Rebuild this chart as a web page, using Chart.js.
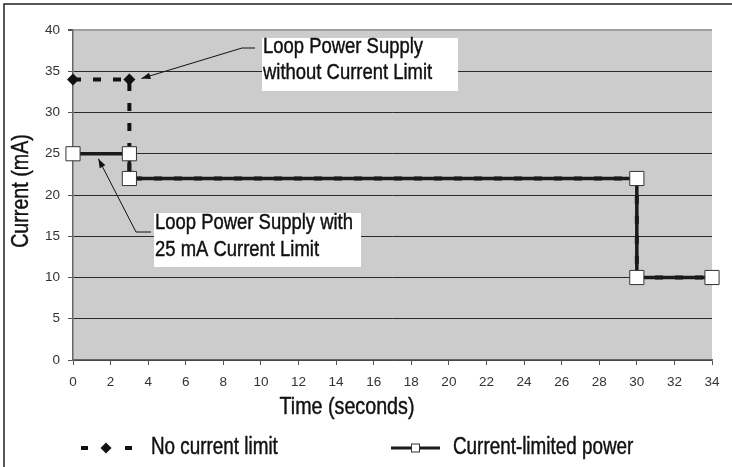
<!DOCTYPE html>
<html>
<head>
<meta charset="utf-8">
<script src="https://cdn.jsdelivr.net/npm/chart.js@4/dist/chart.umd.min.js"></script>
<style>
  html, body { margin: 0; padding: 0; background: #ffffff; }
  #wrap { width: 732px; height: 467px; position: relative; }
</style>
</head>
<body>
<div id="wrap"><canvas id="c" width="732" height="467"></canvas></div>
<script>
// Time axis (seconds) and the two current traces (mA)
const timeNoLimit = [0, 3, 3, 30, 30, 34];
const currentNoLimit = [34, 34, 22, 22, 10, 10];
const timeLimited = [0, 3, 3, 30, 30, 34];
const currentLimited = [25, 25, 22, 22, 10, 10];

const seriesNames = ['No current limit', 'Current-limited power'];
const xTitle = 'Time (seconds)';
const yTitle = 'Current (mA)';
const xTicks = { min: 0, max: 34, step: 2 };
const yTicks = { min: 0, max: 40, step: 5 };

const calloutUpper = ['Loop Power Supply', 'without Current Limit'];
const calloutLower = ['Loop Power Supply with', '25 mA Current Limit'];

const SANS = '"Liberation Sans", Arial, sans-serif';
const NARROW_X = 0.82;   // horizontal squeeze for the condensed label face

const toXY = (xs, ys) => xs.map((x, i) => ({ x, y: ys[i] }));

// condensed text: regular sans squeezed horizontally, lightly emboldened
function narrowText(ctx, text, x, y, size, align, baseline, rot) {
  ctx.save();
  ctx.translate(x, y);
  if (rot) ctx.rotate(rot);
  ctx.scale(NARROW_X, 1);
  ctx.font = size + 'px ' + SANS;
  ctx.textAlign = align || 'left';
  ctx.textBaseline = baseline || 'alphabetic';
  ctx.fillStyle = '#111';
  ctx.strokeStyle = '#111';
  ctx.lineWidth = 0.45;
  ctx.fillText(text, 0, 0);
  ctx.strokeText(text, 0, 0);
  ctx.restore();
}

function drawDiamond(ctx, x, y, r) {
  ctx.beginPath();
  ctx.moveTo(x, y - r); ctx.lineTo(x + r, y); ctx.lineTo(x, y + r); ctx.lineTo(x - r, y);
  ctx.closePath(); ctx.fill();
}

function arrow(ctx, pts) {
  ctx.save();
  ctx.strokeStyle = '#111'; ctx.fillStyle = '#111'; ctx.lineWidth = 1;
  ctx.beginPath();
  ctx.moveTo(pts[0][0], pts[0][1]);
  for (let i = 1; i < pts.length; i++) ctx.lineTo(pts[i][0], pts[i][1]);
  ctx.stroke();
  const [tx, ty] = pts[pts.length - 1];
  const [px, py] = pts[pts.length - 2];
  const a = Math.atan2(ty - py, tx - px);
  const L = 9, W = 3.2;
  ctx.beginPath();
  ctx.moveTo(tx, ty);
  ctx.lineTo(tx - L * Math.cos(a) + W * Math.sin(a), ty - L * Math.sin(a) - W * Math.cos(a));
  ctx.lineTo(tx - L * Math.cos(a) - W * Math.sin(a), ty - L * Math.sin(a) + W * Math.cos(a));
  ctx.closePath(); ctx.fill();
  ctx.restore();
}

const decor = {
  id: 'decor',
  beforeDraw(chart) {
    const { ctx, chartArea: a } = chart;
    ctx.save();
    ctx.fillStyle = '#cccccc';
    ctx.fillRect(a.left, a.top, a.right - a.left, a.bottom - a.top);
    ctx.restore();
  },
  afterDraw(chart) {
    const { ctx, scales } = chart;
    const xs = scales.x, ys = scales.y;
    ctx.save();

    // outer frame
    ctx.strokeStyle = '#222'; ctx.lineWidth = 1.5;
    ctx.strokeRect(4, 4, 760, 500);

    // axis titles
    narrowText(ctx, xTitle, 347, 407, 24, 'center', 'middle');
    narrowText(ctx, yTitle, 21, 191, 24, 'center', 'middle', -Math.PI / 2);

    // callouts
    ctx.fillStyle = '#ffffff';
    ctx.fillRect(262, 38, 196, 53);
    ctx.fillRect(154, 213, 207, 54);
    narrowText(ctx, calloutUpper[0], 263, 53, 22.5);
    narrowText(ctx, calloutUpper[1], 263, 79, 22.5);
    narrowText(ctx, calloutLower[0], 155, 229, 22.5);
    narrowText(ctx, calloutLower[1], 155, 256, 22.5);

    const p1x = xs.getPixelForValue(timeNoLimit[1]);
    const p1y = ys.getPixelForValue(currentNoLimit[1]);
    arrow(ctx, [[255, 48], [242, 48], [p1x + 12, p1y - 1]]);
    const p2x = xs.getPixelForValue(1.35);
    const p2y = ys.getPixelForValue(currentLimited[0]);
    arrow(ctx, [[151, 232], [136, 232], [p2x, p2y + 5]]);

    // legend
    const ly = 448;
    const d0 = chart.data.datasets[0], d1 = chart.data.datasets[1];
    ctx.strokeStyle = d0.borderColor; ctx.lineWidth = 4;
    ctx.setLineDash([7, 37]);
    ctx.beginPath(); ctx.moveTo(81, ly); ctx.lineTo(133, ly); ctx.stroke();
    ctx.setLineDash([]);
    ctx.fillStyle = d0.pointBackgroundColor;
    drawDiamond(ctx, 106, ly, 5.5);
    narrowText(ctx, d0.label, 151, ly, 23, 'left', 'middle');

    ctx.strokeStyle = d1.borderColor; ctx.lineWidth = 3;
    ctx.beginPath(); ctx.moveTo(391, ly); ctx.lineTo(440, ly); ctx.stroke();
    ctx.fillStyle = '#fff'; ctx.strokeStyle = '#333'; ctx.lineWidth = 1;
    ctx.fillRect(411, ly - 4.5, 9, 9);
    ctx.strokeRect(411.5, ly - 4, 8, 8);
    narrowText(ctx, d1.label, 453, ly, 23, 'left', 'middle');

    ctx.restore();
  }
};

new Chart(document.getElementById('c'), {
  type: 'scatter',
  data: {
    datasets: [
      {
        label: seriesNames[0],
        data: toXY(timeNoLimit, currentNoLimit),
        showLine: true,
        clip: false,
        borderColor: '#111111',
        borderWidth: 4,
        borderDash: [8, 12],
        pointStyle: 'rectRot',
        pointRadius: 6,
        pointBackgroundColor: '#111111',
        pointBorderWidth: 0,
        order: 2
      },
      {
        label: seriesNames[1],
        data: toXY(timeLimited, currentLimited),
        showLine: true,
        clip: false,
        borderColor: '#1a1a1a',
        borderWidth: 3.5,
        pointStyle: 'rect',
        pointRadius: 10,
        pointBackgroundColor: '#ffffff',
        pointBorderColor: '#333333',
        pointBorderWidth: 1,
        order: 1
      }
    ]
  },
  options: {
    responsive: false,
    animation: false,
    devicePixelRatio: 1,
    layout: { padding: { left: 0, top: 30, right: 20, bottom: 0 } },
    plugins: { legend: { display: false }, tooltip: { enabled: false } },
    scales: {
      x: {
        type: 'linear',
        min: xTicks.min, max: xTicks.max,
        afterFit(s) { s.height = 107; },
        ticks: { stepSize: xTicks.step, color: '#333', font: { family: SANS, size: 13.5 }, padding: 9 },
        grid: { drawOnChartArea: false, drawTicks: true, tickLength: 5, tickColor: '#555' },
        border: { color: '#666', width: 1.5 }
      },
      y: {
        type: 'linear',
        min: yTicks.min, max: yTicks.max,
        afterFit(s) { s.width = 73; },
        ticks: { stepSize: yTicks.step, color: '#333', font: { family: SANS, size: 13.5 }, padding: 8 },
        grid: {
          drawOnChartArea: true, drawTicks: true, tickLength: 5,
          color: (c) => c.tick && c.tick.value === yTicks.max ? '#a0a0a0' : '#2a2a2a',
          lineWidth: (c) => c.tick && c.tick.value === yTicks.max ? 2 : 1,
          tickColor: '#555'
        },
        border: { color: '#666', width: 1.5 }
      }
    }
  },
  plugins: [decor]
});
</script>
</body>
</html>
